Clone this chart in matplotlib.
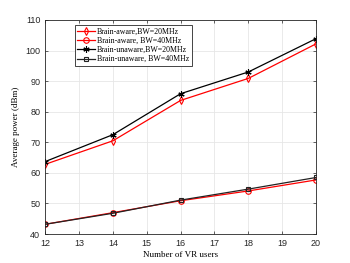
import matplotlib
matplotlib.use("Agg")
import matplotlib.pyplot as plt

users = [12, 14, 16, 18, 20]
aware_20 = [62.8, 70.5, 83.7, 90.9, 102.2]
aware_40 = [43.2, 47.0, 50.9, 54.1, 57.7]
unaware_20 = [63.7, 72.5, 85.9, 93.0, 103.9]
unaware_40 = [43.2, 46.8, 51.1, 54.7, 58.5]
labels = ["Brain-aware,BW=20MHz", "Brain-aware, BW=40MHz",
          "Brain-unaware,BW=20MHz", "Brain-unaware, BW=40MHz"]

fig = plt.figure(figsize=(3.5, 2.63), dpi=100)
ax = fig.add_axes([0.129, 0.110, 0.774, 0.814])

lw = 0.9
ax.plot(users, aware_20, color='red', marker='d', mfc='none', ms=4, lw=lw, mew=0.8, label=labels[0])
ax.plot(users, aware_40, color='red', marker='o', mfc='none', ms=4, lw=lw, mew=0.8, label=labels[1])
ax.plot(users, unaware_20, color='black', marker=(6, 2, 0), ms=4.5, lw=lw, mew=0.8, label=labels[2])
ax.plot(users, unaware_40, color='#222222', marker='s', mfc='none', ms=3.5, lw=lw, mew=0.8, label=labels[3])

ax.set_xlim(12, 20)
ax.set_ylim(40, 110)
ax.set_xticks(range(12, 21))
ax.set_yticks(range(40, 111, 10))
ax.grid(True, color='#e6e6e6', lw=0.6)
ax.set_axisbelow(True)
ax.tick_params(direction='in', length=2.5, width=0.5, labelsize=6.5, colors='#262626', top=True, right=True)
for lab in ax.get_xticklabels() + ax.get_yticklabels():
    lab.set_fontfamily('Liberation Sans')
for s in ax.spines.values():
    s.set_linewidth(0.6)
    s.set_color('#262626')

ax.set_xlabel("Number of VR users", fontfamily='Liberation Serif', fontsize=6.5, labelpad=2)
ax.set_ylabel("Average power (dBm)", fontfamily='Liberation Serif', fontsize=6.5, labelpad=4)

leg = ax.legend(loc='upper left', bbox_to_anchor=(0.11, 0.975), prop={'family': 'Liberation Serif', 'size': 5.7},
                frameon=True, fancybox=False, edgecolor='#262626', framealpha=1,
                borderpad=0.3, labelspacing=0.15, handlelength=2.2, handletextpad=0.3, borderaxespad=0)
leg.get_frame().set_linewidth(0.6)

fig.savefig("out.png", dpi=100)
